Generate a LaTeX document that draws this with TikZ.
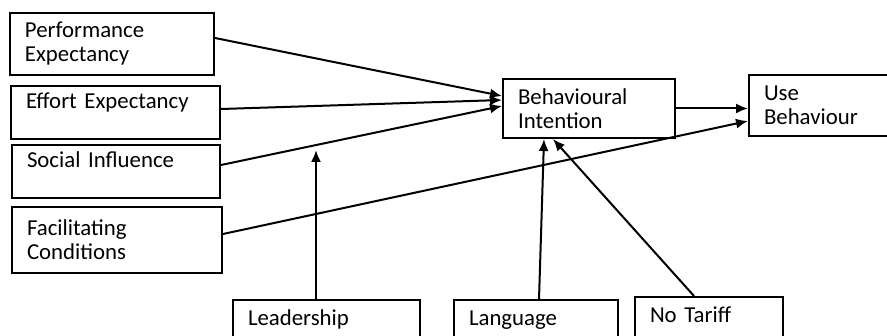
\documentclass[tikz,border=0pt]{standalone}
\usepackage{fontspec}
\setmainfont{Carlito}
\usetikzlibrary{arrows.meta}

\begin{document}
\begin{tikzpicture}[x=0.5pt, y=-0.5pt,
        every node/.style={font=\fontsize{11.4}{12}\selectfont},
        factor/.style={draw, line width=1pt, anchor=north west, align=left, inner xsep=7.5pt, inner ysep=0pt},
        link/.style={line width=1pt, -{Latex[length=6pt,width=5pt]}}]
        \useasboundingbox (0,0) rectangle (887,336);
        \clip (0,0) rectangle (887,336);

        \node[factor, text width=87pt, minimum height=31pt] (pe) at (9, 12) {Performance\\Expectancy};
        \node[factor, text width=89.5pt, minimum height=26.5pt] (ee) at (10, 85) {Effort Expectancy\\ \mbox{}};
        \node[factor, text width=89pt, minimum height=26.5pt] (si) at (11, 144) {Social Influence\\ \mbox{}};
        \node[factor, text width=90pt, minimum height=33pt] (fc) at (11, 206) {Facilitating\\Conditions};

        \node[factor, text width=71pt, minimum height=29.5pt] (bi) at (502, 78) {Behavioural\\Intention};
        \node[factor, text width=57.5pt, minimum height=30.5pt] (ub) at (748, 74) {Use\\Behaviour};

        \node[factor, text width=78.5pt, minimum height=30pt] (lead) at (232, 299) {Leadership\\ \mbox{}};
        \node[factor, text width=67pt, minimum height=30pt] (lang) at (453, 299) {Language\\ \mbox{}};
        \node[factor, text width=59pt, minimum height=30pt] (tariff) at (634, 296) {No Tariff\\ \mbox{}};

        \coordinate (lead tip) at (316, 150);

        \draw[link] ([yshift=3pt]pe.east) -- ([yshift=6.25pt]bi.west);
        \draw[link] ([yshift=1.75pt]ee.east) -- ([yshift=4.25pt]bi.west);
        \draw[link] ([yshift=3.25pt]si.east) -- ([yshift=1.25pt]bi.west);
        \draw[link] ([yshift=3pt]fc.east) -- ([yshift=-7.75pt]ub.west);
        \draw[link] (bi.east) -- (bi.east -| ub.west);
        \draw[link] (lead tip |- lead.north) -- (lead tip);
        \draw[link] ([xshift=1.5pt]lang.north) -- ([xshift=-22.5pt]bi.south);
        \draw[link] ([xshift=-7.5pt]tariff.north) -- ([xshift=-18pt]bi.south);

    \end{tikzpicture}
\end{document}
